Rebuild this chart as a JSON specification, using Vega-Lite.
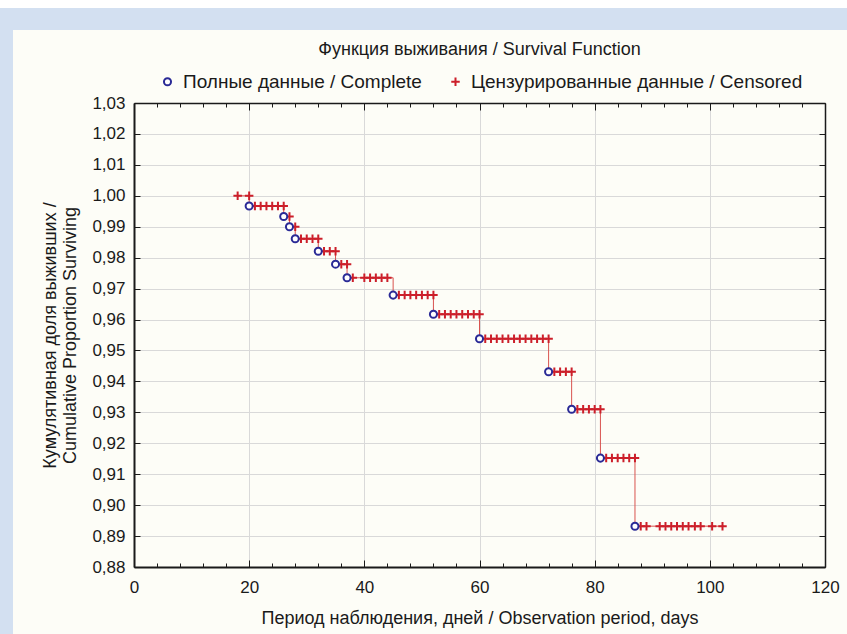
{
  "$schema": "https://vega.github.io/schema/vega-lite/v6.json",
  "background": "#fdfdf7",
  "padding": 0,
  "spacing": 0,
  "resolve": {
    "scale": {"color": "independent", "shape": "independent", "size": "independent"},
    "legend": {"color": "independent", "shape": "independent", "size": "independent"}
  },
  "config": {
    "font": "Liberation Sans",
    "view": {"stroke": null},
    "axis": {
      "labelFont": "Liberation Sans",
      "titleFont": "Liberation Sans",
      "labelColor": "#1a1a1a",
      "titleColor": "#1a1a1a",
      "titleFontWeight": "normal",
      "gridColor": "#d9d9d9",
      "gridWidth": 1,
      "domainColor": "#1a1a1a",
      "tickColor": "#1a1a1a",
      "tickWidth": 1
    },
    "legend": {"labelFont": "Liberation Sans", "labelColor": "#1a1a1a"},
    "title": {"font": "Liberation Sans"}
  },
  "datasets": {
    "curve": [
      {"t": 18, "s": 1.0},
      {"t": 20, "s": 0.9967},
      {"t": 26, "s": 0.9933},
      {"t": 27, "s": 0.99},
      {"t": 28, "s": 0.9861},
      {"t": 32, "s": 0.9821},
      {"t": 35, "s": 0.9779},
      {"t": 37, "s": 0.9735},
      {"t": 45, "s": 0.9679},
      {"t": 52, "s": 0.9617},
      {"t": 60, "s": 0.9538},
      {"t": 72, "s": 0.9431},
      {"t": 76, "s": 0.931},
      {"t": 81, "s": 0.9152},
      {"t": 87, "s": 0.8932},
      {"t": 102.5, "s": 0.8932}
    ],
    "obs": [
      {"t": 18, "s": 1.0, "kind": "Цензурированные данные / Censored"},
      {"t": 20, "s": 1.0, "kind": "Цензурированные данные / Censored"},
      {"t": 21, "s": 0.9967, "kind": "Цензурированные данные / Censored"},
      {"t": 22, "s": 0.9967, "kind": "Цензурированные данные / Censored"},
      {"t": 23, "s": 0.9967, "kind": "Цензурированные данные / Censored"},
      {"t": 24, "s": 0.9967, "kind": "Цензурированные данные / Censored"},
      {"t": 25, "s": 0.9967, "kind": "Цензурированные данные / Censored"},
      {"t": 26, "s": 0.9967, "kind": "Цензурированные данные / Censored"},
      {"t": 27, "s": 0.9933, "kind": "Цензурированные данные / Censored"},
      {"t": 28, "s": 0.99, "kind": "Цензурированные данные / Censored"},
      {"t": 29, "s": 0.9861, "kind": "Цензурированные данные / Censored"},
      {"t": 30, "s": 0.9861, "kind": "Цензурированные данные / Censored"},
      {"t": 31, "s": 0.9861, "kind": "Цензурированные данные / Censored"},
      {"t": 32, "s": 0.9861, "kind": "Цензурированные данные / Censored"},
      {"t": 33, "s": 0.9821, "kind": "Цензурированные данные / Censored"},
      {"t": 34, "s": 0.9821, "kind": "Цензурированные данные / Censored"},
      {"t": 35, "s": 0.9821, "kind": "Цензурированные данные / Censored"},
      {"t": 36, "s": 0.9779, "kind": "Цензурированные данные / Censored"},
      {"t": 37, "s": 0.9779, "kind": "Цензурированные данные / Censored"},
      {"t": 38, "s": 0.9735, "kind": "Цензурированные данные / Censored"},
      {"t": 40, "s": 0.9735, "kind": "Цензурированные данные / Censored"},
      {"t": 41, "s": 0.9735, "kind": "Цензурированные данные / Censored"},
      {"t": 42, "s": 0.9735, "kind": "Цензурированные данные / Censored"},
      {"t": 43, "s": 0.9735, "kind": "Цензурированные данные / Censored"},
      {"t": 44, "s": 0.9735, "kind": "Цензурированные данные / Censored"},
      {"t": 46, "s": 0.9679, "kind": "Цензурированные данные / Censored"},
      {"t": 47, "s": 0.9679, "kind": "Цензурированные данные / Censored"},
      {"t": 48, "s": 0.9679, "kind": "Цензурированные данные / Censored"},
      {"t": 49, "s": 0.9679, "kind": "Цензурированные данные / Censored"},
      {"t": 50, "s": 0.9679, "kind": "Цензурированные данные / Censored"},
      {"t": 51, "s": 0.9679, "kind": "Цензурированные данные / Censored"},
      {"t": 52, "s": 0.9679, "kind": "Цензурированные данные / Censored"},
      {"t": 53, "s": 0.9617, "kind": "Цензурированные данные / Censored"},
      {"t": 54, "s": 0.9617, "kind": "Цензурированные данные / Censored"},
      {"t": 55, "s": 0.9617, "kind": "Цензурированные данные / Censored"},
      {"t": 56, "s": 0.9617, "kind": "Цензурированные данные / Censored"},
      {"t": 57, "s": 0.9617, "kind": "Цензурированные данные / Censored"},
      {"t": 58, "s": 0.9617, "kind": "Цензурированные данные / Censored"},
      {"t": 59, "s": 0.9617, "kind": "Цензурированные данные / Censored"},
      {"t": 60, "s": 0.9617, "kind": "Цензурированные данные / Censored"},
      {"t": 61, "s": 0.9538, "kind": "Цензурированные данные / Censored"},
      {"t": 62, "s": 0.9538, "kind": "Цензурированные данные / Censored"},
      {"t": 63, "s": 0.9538, "kind": "Цензурированные данные / Censored"},
      {"t": 64, "s": 0.9538, "kind": "Цензурированные данные / Censored"},
      {"t": 65, "s": 0.9538, "kind": "Цензурированные данные / Censored"},
      {"t": 66, "s": 0.9538, "kind": "Цензурированные данные / Censored"},
      {"t": 67, "s": 0.9538, "kind": "Цензурированные данные / Censored"},
      {"t": 68, "s": 0.9538, "kind": "Цензурированные данные / Censored"},
      {"t": 69, "s": 0.9538, "kind": "Цензурированные данные / Censored"},
      {"t": 70, "s": 0.9538, "kind": "Цензурированные данные / Censored"},
      {"t": 71, "s": 0.9538, "kind": "Цензурированные данные / Censored"},
      {"t": 72, "s": 0.9538, "kind": "Цензурированные данные / Censored"},
      {"t": 73, "s": 0.9431, "kind": "Цензурированные данные / Censored"},
      {"t": 74, "s": 0.9431, "kind": "Цензурированные данные / Censored"},
      {"t": 75, "s": 0.9431, "kind": "Цензурированные данные / Censored"},
      {"t": 76, "s": 0.9431, "kind": "Цензурированные данные / Censored"},
      {"t": 77, "s": 0.931, "kind": "Цензурированные данные / Censored"},
      {"t": 78, "s": 0.931, "kind": "Цензурированные данные / Censored"},
      {"t": 79, "s": 0.931, "kind": "Цензурированные данные / Censored"},
      {"t": 80, "s": 0.931, "kind": "Цензурированные данные / Censored"},
      {"t": 81, "s": 0.931, "kind": "Цензурированные данные / Censored"},
      {"t": 82, "s": 0.9152, "kind": "Цензурированные данные / Censored"},
      {"t": 83, "s": 0.9152, "kind": "Цензурированные данные / Censored"},
      {"t": 84, "s": 0.9152, "kind": "Цензурированные данные / Censored"},
      {"t": 85, "s": 0.9152, "kind": "Цензурированные данные / Censored"},
      {"t": 86, "s": 0.9152, "kind": "Цензурированные данные / Censored"},
      {"t": 87, "s": 0.9152, "kind": "Цензурированные данные / Censored"},
      {"t": 88, "s": 0.8932, "kind": "Цензурированные данные / Censored"},
      {"t": 89, "s": 0.8932, "kind": "Цензурированные данные / Censored"},
      {"t": 91.3, "s": 0.8932, "kind": "Цензурированные данные / Censored"},
      {"t": 92.3, "s": 0.8932, "kind": "Цензурированные данные / Censored"},
      {"t": 93.3, "s": 0.8932, "kind": "Цензурированные данные / Censored"},
      {"t": 94.3, "s": 0.8932, "kind": "Цензурированные данные / Censored"},
      {"t": 95.3, "s": 0.8932, "kind": "Цензурированные данные / Censored"},
      {"t": 96.3, "s": 0.8932, "kind": "Цензурированные данные / Censored"},
      {"t": 97.4, "s": 0.8932, "kind": "Цензурированные данные / Censored"},
      {"t": 98.4, "s": 0.8932, "kind": "Цензурированные данные / Censored"},
      {"t": 100.4, "s": 0.8932, "kind": "Цензурированные данные / Censored"},
      {"t": 102.2, "s": 0.8932, "kind": "Цензурированные данные / Censored"},
      {"t": 20, "s": 0.9967, "kind": "Полные данные / Complete"},
      {"t": 26, "s": 0.9933, "kind": "Полные данные / Complete"},
      {"t": 27, "s": 0.99, "kind": "Полные данные / Complete"},
      {"t": 28, "s": 0.9861, "kind": "Полные данные / Complete"},
      {"t": 32, "s": 0.9821, "kind": "Полные данные / Complete"},
      {"t": 35, "s": 0.9779, "kind": "Полные данные / Complete"},
      {"t": 37, "s": 0.9735, "kind": "Полные данные / Complete"},
      {"t": 45, "s": 0.9679, "kind": "Полные данные / Complete"},
      {"t": 52, "s": 0.9617, "kind": "Полные данные / Complete"},
      {"t": 60, "s": 0.9538, "kind": "Полные данные / Complete"},
      {"t": 72, "s": 0.9431, "kind": "Полные данные / Complete"},
      {"t": 76, "s": 0.931, "kind": "Полные данные / Complete"},
      {"t": 81, "s": 0.9152, "kind": "Полные данные / Complete"},
      {"t": 87, "s": 0.8932, "kind": "Полные данные / Complete"}
    ]
  },
  "vconcat": [
    {
      "width": 847, "height": 8,
      "view": {"fill": "#ffffff", "stroke": null},
      "data": {"values": [{}]},
      "mark": {"type": "point", "opacity": 0},
      "encoding": {}
    },
    {
      "width": 847, "height": 22,
      "view": {"fill": "#d3e0f1", "stroke": null},
      "data": {"values": [{}]},
      "mark": {"type": "point", "opacity": 0},
      "encoding": {}
    },
    {
      "spacing": 28,
      "resolve": {
        "scale": {"color": "independent", "shape": "independent", "size": "independent"},
        "legend": {"color": "independent", "shape": "independent", "size": "independent"}
      },
      "hconcat": [
        {
          "width": 13, "height": 604,
          "view": {"fill": "#d3e0f1", "stroke": null},
          "data": {"values": [{}]},
          "mark": {"type": "point", "opacity": 0},
          "encoding": {}
        },
        {
          "spacing": 0,
          "resolve": {
            "scale": {"color": "independent", "shape": "independent", "size": "independent"},
            "legend": {"color": "independent", "shape": "independent", "size": "independent"}
          },
          "vconcat": [
            {
              "width": 10, "height": 11,
              "view": {"fill": null, "stroke": null},
              "data": {"values": [{}]},
              "mark": {"type": "point", "opacity": 0},
              "encoding": {}
            },
            {
              "width": 691, "height": 464,
              "title": {
                "text": "Функция выживания / Survival Function",
                "anchor": "middle",
                "fontSize": 18,
                "fontWeight": "normal",
                "color": "#1a1a1a",
                "offset": 13
              },
              "layer": [
                {
                  "data": {"name": "curve"},
                  "mark": {"type": "line", "interpolate": "step-after", "color": "#d9534f", "strokeWidth": 1},
                  "encoding": {
                    "x": {
                      "field": "t", "type": "quantitative",
                      "scale": {"domain": [0, 120], "nice": false, "zero": false},
                      "axis": {
                        "orient": "bottom",
                        "title": "Период наблюдения, дней / Observation period, days",
                        "titleFontSize": 18,
                        "titlePadding": 14,
                        "values": [0,4,8,12,16,20,24,28,32,36,40,44,48,52,56,60,64,68,72,76,80,84,88,92,96,100,104,108,112,116,120],
                        "labelExpr": "datum.value % 20 === 0 ? datum.label : ''",
                        "labelFontSize": 17,
                        "labelPadding": 19,
                        "labelFlush": false,
                        "tickSize": {"condition": {"test": "datum.value % 20 === 0", "value": -7}, "value": -4},
                        "gridOpacity": {"condition": {"test": "datum.value % 20 === 0", "value": 1}, "value": 0},
                        "domainWidth": 2,
                        "grid": true
                      }
                    },
                    "y": {
                      "field": "s", "type": "quantitative",
                      "scale": {"domain": [0.88, 1.03], "nice": false, "zero": false},
                      "axis": {
                        "orient": "left",
                        "title": ["Кумулятивная доля выживших /", "Cumulative Proportion Surviving"],
                        "titleFontSize": 18,
                        "titleLineHeight": 20,
                        "titlePadding": 12,
                        "values": [0.88,0.89,0.9,0.91,0.92,0.93,0.94,0.95,0.96,0.97,0.98,0.99,1.0,1.01,1.02,1.03],
                        "labelExpr": "replace(format(datum.value, '.2f'), '.', ',')",
                        "labelFontSize": 17,
                        "labelPadding": 15,
                        "labelFlush": false,
                        "tickSize": -6,
                        "domainWidth": 2,
                        "grid": true
                      }
                    }
                  }
                },
                {
                  "data": {"name": "obs"},
                  "mark": {"type": "point", "filled": false, "fill": "#ffffff", "strokeWidth": 2, "opacity": 1},
                  "encoding": {
                    "x": {
                      "field": "t", "type": "quantitative",
                      "axis": {
                        "orient": "top", "title": null, "labels": false, "grid": false,
                        "values": [0,4,8,12,16,20,24,28,32,36,40,44,48,52,56,60,64,68,72,76,80,84,88,92,96,100,104,108,112,116,120],
                        "tickSize": {"condition": {"test": "datum.value % 20 === 0", "value": -7}, "value": -4},
                        "domainWidth": 1.5
                      }
                    },
                    "y": {
                      "field": "s", "type": "quantitative",
                      "axis": {
                        "orient": "right", "title": null, "labels": false, "grid": false,
                        "values": [0.88,0.89,0.9,0.91,0.92,0.93,0.94,0.95,0.96,0.97,0.98,0.99,1.0,1.01,1.02,1.03],
                        "tickSize": -6,
                        "domainWidth": 1.5
                      }
                    },
                    "shape": {
                      "field": "kind", "type": "nominal",
                      "scale": {"domain": ["Полные данные / Complete", "Цензурированные данные / Censored"], "range": ["circle", "M-1,0H1M0,-1V1"]},
                      "legend": {
                        "orient": "none", "legendX": 24, "legendY": -31,
                        "direction": "horizontal", "title": null, "padding": 0,
                        "labelFontSize": 19, "labelLimit": 0, "labelOffset": 6,
                        "columnPadding": 24, "symbolSize": 45, "symbolStrokeWidth": 2,
                        "symbolFillColor": "#ffffff"
                      }
                    },
                    "color": {
                      "field": "kind", "type": "nominal",
                      "scale": {"domain": ["Полные данные / Complete", "Цензурированные данные / Censored"], "range": ["#2a2a96", "#cc1f2a"]},
                      "legend": {
                        "orient": "none", "legendX": 24, "legendY": -31,
                        "direction": "horizontal", "title": null, "padding": 0,
                        "labelFontSize": 19, "labelLimit": 0, "labelOffset": 6,
                        "columnPadding": 24, "symbolSize": 45, "symbolStrokeWidth": 2,
                        "symbolFillColor": "#ffffff"
                      }
                    },
                    "size": {
                      "field": "kind", "type": "nominal",
                      "scale": {"domain": ["Полные данные / Complete", "Цензурированные данные / Censored"], "range": [50, 72]},
                      "legend": null
                    }
                  }
                }
              ],
              "resolve": {"axis": {"x": "independent", "y": "independent"}}
            }
          ]
        }
      ]
    }
  ]
}
